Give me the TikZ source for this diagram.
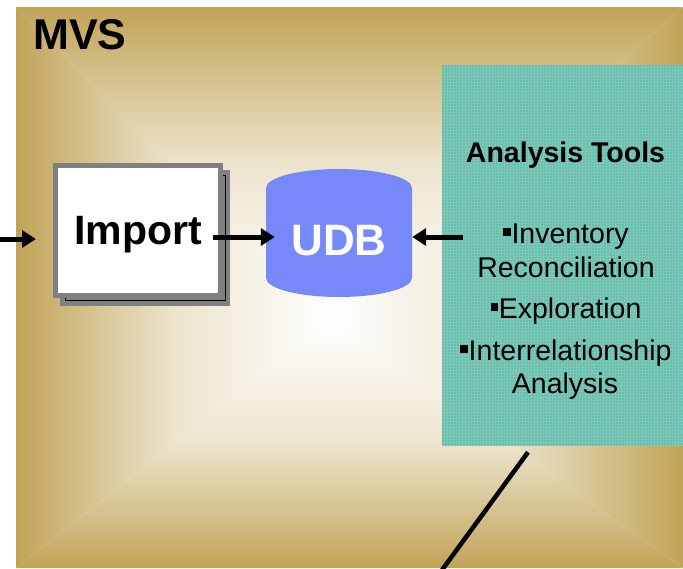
\documentclass[tikz,border=0pt]{standalone}
\usepackage{fontspec}
\setmainfont{Liberation Sans}
\usetikzlibrary{arrows.meta,patterns}
\definecolor{gold}{RGB}{193,164,88}
\definecolor{udbblue}{RGB}{119,137,248}
\definecolor{tealbox}{RGB}{88,196,194}
\definecolor{tealgrid}{RGB}{140,196,170}
\definecolor{shadowgray}{RGB}{128,128,128}
\colorlet{goldmid}{gold!30!white}
\newcommand{\bul}{\rule[0.25em]{0.26em}{0.26em}\kern0.03em}
\begin{document}
\begin{tikzpicture}[x=1pt,y=1pt,
  arr/.style={line width=5pt,-{Triangle[length=14pt,width=17pt]}},
  plainline/.style={line width=4.5pt},
  importbox/.style={draw=shadowgray,line width=5pt,fill=white,minimum width=165pt,minimum height=130pt,inner sep=0pt},
  bigbold/.style={font=\bfseries\fontsize{41}{48}\selectfont,inner sep=0pt},
  toolsbox/.style={fill=tealbox,minimum width=241pt,minimum height=380pt,inner sep=0pt,postaction={pattern=grid,pattern color=tealgrid}},
  listtext/.style={font=\fontsize{28.5}{32}\selectfont,inner sep=0pt,anchor=base}]
\useasboundingbox (0,0) rectangle (683,-568);
% background with rectangular gradient
\def\cx{330}\def\cy{-320}
\shade[top color=gold,bottom color=white,middle color=goldmid] (16,-7) -- (683,-7) -- (\cx,\cy) -- cycle;
\shade[top color=white,bottom color=gold,middle color=goldmid] (16,-568) -- (683,-568) -- (\cx,\cy) -- cycle;
\shade[left color=gold,right color=white,middle color=goldmid] (16,-7) -- (16,-568) -- (\cx,\cy) -- cycle;
\shade[left color=white,right color=gold,middle color=goldmid] (683,-7) -- (683,-568) -- (\cx,\cy) -- cycle;
% title
\node[font=\bfseries\fontsize{43}{50}\selectfont,inner sep=0pt,anchor=base west] (mvs) at (33,-49) {MVS};
% import box with shadow
\fill[shadowgray] (60,-170) rectangle (230,-306);
\draw[black,line width=1pt] (65,-175) rectangle (225,-300);
\node[importbox] (import) at (138,-230.5) {};
\node[bigbold,anchor=base] (importlbl) at (138,-244) {Import};
% UDB cylinder
\fill[udbblue] (266,-188) arc[start angle=180,end angle=0,x radius=73,y radius=19]
  -- (412,-278) arc[start angle=0,end angle=-180,x radius=73,y radius=19] -- cycle;
\node[minimum width=146pt,minimum height=90pt,inner sep=0pt] (udb) at (339,-237) {};
\node[font=\bfseries\fontsize{44}{50}\selectfont,text=white,inner sep=0pt,anchor=base] (udblbl) at (339,-255) {UDB};
% analysis tools box
\node[toolsbox] (tools) at (562.5,-255) {};
\node[font=\bfseries\fontsize{28.5}{32}\selectfont,inner sep=0pt,anchor=base] (ttitle) at (565.5,-162) {Analysis Tools};
\node[listtext] (l1) at (566,-243) {\bul Inventory};
\node[listtext] (l2) at (566,-277) {Reconciliation};
\node[listtext] (l3) at (566,-318) {\bul Exploration};
\node[listtext] (l4) at (566,-360) {\bul Interrelationship};
\node[listtext] (l5) at (565,-393) {Analysis};
% connectors
\coordinate (src) at (0,-239);
\draw[arr] (src) -- ([xshift=-17pt,yshift=-8.5pt]import.west);
\draw[arr] ([xshift=-10pt,yshift=-6.5pt]import.east) -- ([xshift=9pt]udb.west);
\draw[arr] ([xshift=21pt,yshift=18pt]tools.west) -- (udb.east);
\coordinate (lineend) at (442,-570);
\draw[plainline] ([xshift=-34.5pt,yshift=-7pt]tools.south) -- (lineend);
\end{tikzpicture}
\end{document}
